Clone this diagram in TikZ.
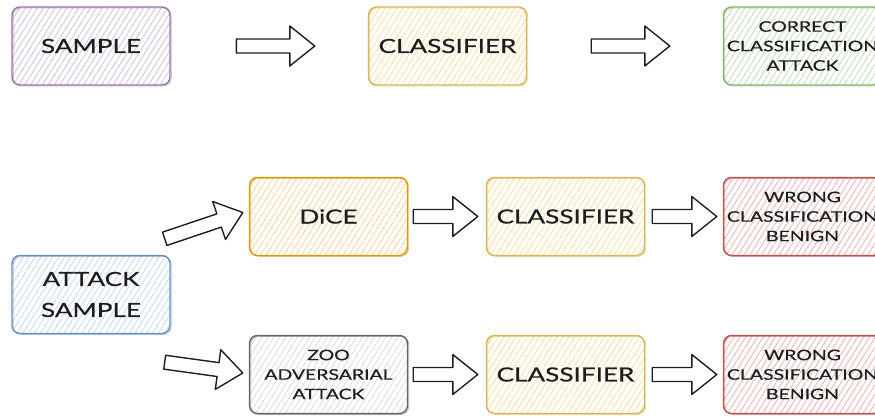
\documentclass[tikz,border=0pt]{standalone}
\usepackage{fontspec}
\setmainfont{Lato}[FakeStretch=1.34,FakeBold=0.6]
\usetikzlibrary{calc,patterns.meta}

\definecolor{ink}{HTML}{1E1E1E}
\definecolor{purpleS}{HTML}{9673A6}\definecolor{purpleH}{HTML}{D2C2DE}
\definecolor{yellowS}{HTML}{D6B656}\definecolor{yellowH}{HTML}{F7E2A8}
\definecolor{greenS}{HTML}{82B366}\definecolor{greenH}{HTML}{C6DEBD}
\definecolor{orangeS}{HTML}{D79B00}\definecolor{orangeH}{HTML}{FFD4A6}
\definecolor{redS}{HTML}{B85450}\definecolor{redH}{HTML}{EDB3B0}
\definecolor{blueS}{HTML}{6C8EBF}\definecolor{blueH}{HTML}{C8DBF4}
\definecolor{grayS}{HTML}{666666}\definecolor{grayH}{HTML}{DDDDDD}

\tikzset{
  card/.style 2 args={draw=#1, line width=1.4pt, rounded corners=8pt,
    pattern={Lines[angle=58,distance=5pt,line width=.8pt]}, pattern color=#2,
    postaction={draw=#1, line width=.7pt, opacity=.55,
      transform canvas={shift={(1.2pt,-1pt)}}},
    minimum width=158pt, minimum height=78pt, align=center, text=ink,
    font=\fontsize{19.5}{31}\selectfont},
  small/.style={font=\fontsize{14.5}{19.5}\selectfont},
  blockarrow/.style={draw=ink, fill=white, line width=1.4pt, line join=round},
}

% hollow block arrow from tail #1 to tip #2
\newcommand\barrow[2]{%
  \coordinate (ba-neck) at ($(#2)!25pt!(#1)$);
  \draw[blockarrow] ($(#1)!7pt!90:(#2)$) -- ($(ba-neck)!7pt!90:(#2)$)
    -- ($(ba-neck)!20pt!90:(#2)$) -- (#2) -- ($(ba-neck)!20pt!-90:(#2)$)
    -- ($(ba-neck)!7pt!-90:(#2)$) -- ($(#1)!7pt!-90:(#2)$) -- cycle;
}

\begin{document}
\begin{tikzpicture}[x=1pt,y=-1pt]
\useasboundingbox (0,0) rectangle (875,417);
\clip (0,0) rectangle (875,417);

% top row
\node[card={purpleS}{purpleH}] (sample)  at (91,46)     {SAMPLE};
\node[card={yellowS}{yellowH}] (cls1)    at (447.5,46)  {CLASSIFIER};
\node[card={greenS}{greenH},small] (correct) at (802.5,46) {CORRECT\\CLASSIFICATION\\ATTACK};

% middle row
\node[card={orangeS}{orangeH}] (dice)    at (328.5,216.5) {DiCE};
\node[card={yellowS}{yellowH}] (cls2)    at (565.5,216.5) {CLASSIFIER};
\node[card={redS}{redH},small] (wrong1)  at (802.5,216.5) {WRONG\\CLASSIFICATION\\BENIGN};

% attack sample
\node[card={blueS}{blueH}] (att)         at (91,294.5)  {ATTACK\\SAMPLE};

% bottom row
\node[card={grayS}{grayH},small] (zoo)   at (328.5,374.5) {ZOO\\ADVERSARIAL\\ATTACK};
\node[card={yellowS}{yellowH}] (cls3)    at (565.5,374.5) {CLASSIFIER};
\node[card={redS}{redH},small] (wrong2)  at (802.5,374.5) {WRONG\\CLASSIFICATION\\BENIGN};

% arrow ends
\coordinate (t1) at ($(sample.east)+(66,0)$);  \coordinate (h1) at ($(cls1.west)+(-53,0)$);
\coordinate (t2) at ($(cls1.east)+(64,0)$);    \coordinate (h2) at ($(correct.west)+(-53,0)$);
\coordinate (t3) at ($(att.north east)+(-6,-16)$); \coordinate (h3) at ($(dice.west)+(-6,-4)$);
\coordinate (t4) at ($(dice.east)+(5,0)$);     \coordinate (h4) at ($(cls2.west)+(-8,0)$);
\coordinate (t5) at ($(cls2.east)+(7,0)$);     \coordinate (h5) at ($(wrong1.west)+(-6,0)$);
\coordinate (t6) at ($(att.south east)+(-6,28)$);  \coordinate (h6) at ($(zoo.west)+(-6,-1.5)$);
\coordinate (t7) at ($(zoo.east)+(5,0)$);      \coordinate (h7) at ($(cls3.west)+(-8,0)$);
\coordinate (t8) at ($(cls3.east)+(7,0)$);     \coordinate (h8) at ($(wrong2.west)+(-6,0)$);

\barrow{t1}{h1}
\barrow{t2}{h2}
\barrow{t3}{h3}
\barrow{t4}{h4}
\barrow{t5}{h5}
\barrow{t6}{h6}
\barrow{t7}{h7}
\barrow{t8}{h8}
\end{tikzpicture}
\end{document}
